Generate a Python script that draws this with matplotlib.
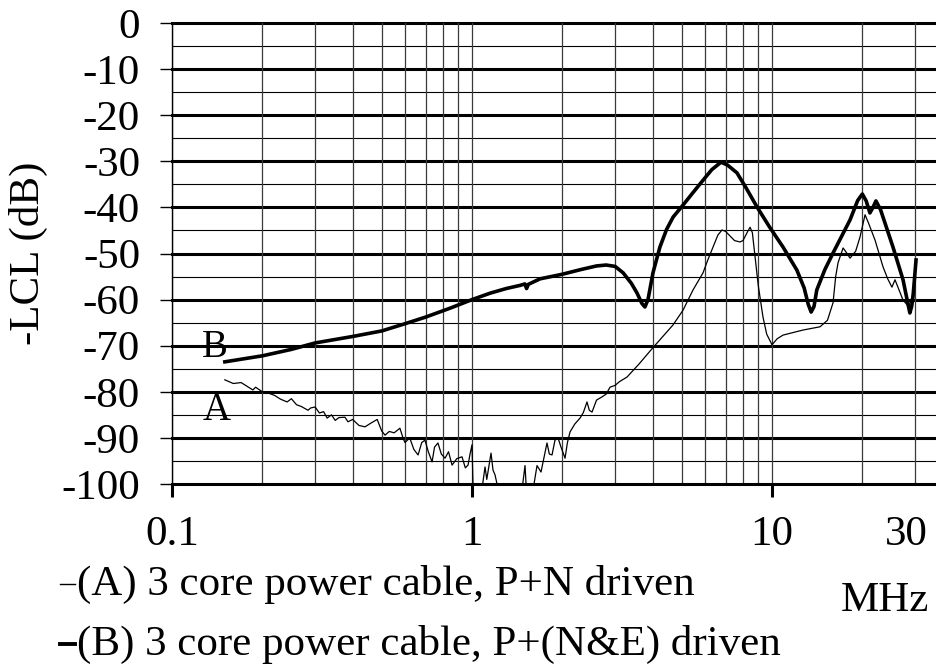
import numpy as np
import matplotlib
matplotlib.use("Agg")
import matplotlib.pyplot as plt
from matplotlib.ticker import LogLocator, MultipleLocator, NullFormatter
from matplotlib.lines import Line2D
from matplotlib.transforms import ScaledTranslation

plt.rcParams['font.family'] = ['Liberation Serif', 'DejaVu Serif']

# curve A: 3 core power cable, P+N driven (MHz, dB)
freq_a = [0.150, 0.16, 0.17, 0.186, 0.19, 0.20, 0.21, 0.22, 0.23, 0.242, 0.25,
          0.26, 0.27, 0.284, 0.29, 0.30, 0.31, 0.32, 0.329, 0.34, 0.35, 0.36,
          0.377, 0.386, 0.40, 0.42, 0.44, 0.46, 0.483, 0.50, 0.513, 0.53, 0.55,
          0.575, 0.59, 0.598, 0.62, 0.64, 0.661, 0.68, 0.697, 0.715, 0.736, 0.75,
          0.770, 0.79, 0.813, 0.835, 0.858, 0.89, 0.926, 0.95, 0.970, 0.985, 1.0,
          1.008, 1.03, 1.08, 1.105, 1.12, 1.157, 1.175, 1.193, 1.221, 1.3, 1.45,
          1.502, 1.52, 1.6, 1.647, 1.698, 1.74, 1.778, 1.81, 1.848, 1.89, 1.935,
          1.98, 2.042, 2.08, 2.122, 2.2, 2.291, 2.35, 2.417, 2.46, 2.512, 2.6,
          2.712, 2.8, 2.884, 3.0, 3.1, 3.286, 3.6, 4.0, 4.3, 4.677, 5.05, 5.454,
          5.888, 6.1, 6.358, 6.6, 6.81, 7.0, 7.5, 7.82, 8.0, 8.3, 8.45, 8.6, 8.78,
          9.0, 9.33, 9.6, 10.0, 10.4, 10.88, 11.5, 12.69, 14.45, 15.3, 15.97, 16.3,
          16.6, 17.25, 17.7, 18.2, 19.0, 19.65, 20.42, 21.0, 22.05, 23.44, 24.3,
          25.1, 25.7, 27.33, 28.6, 29.5]
lcl_a = [-77.4, -78.2, -78.0, -79.6, -79.0, -80.0, -80.3, -80.8, -81.6, -82.2, -81.5,
         -82.8, -83.2, -84.0, -83.5, -83.3, -84.6, -84.3, -85.7, -85.0, -86.2, -85.6,
         -85.5, -86.5, -86.0, -87.3, -87.6, -86.8, -86.0, -88.5, -89.4, -88.6, -88.9,
         -87.9, -90.2, -91.0, -90.0, -92.5, -93.7, -91.0, -90.5, -93.0, -95.2, -92.0,
         -91.1, -93.5, -94.4, -93.0, -95.9, -94.5, -94.1, -96.5, -95.9, -93.5, -91.5,
         -100.5, -103, -101, -96.3, -99, -93.3, -97, -98, -101, -106, -104,
         -96, -102, -101, -96, -97.4, -94, -91.1, -93.5, -93.7, -90.5, -90,
         -92, -94.4, -91, -88.7, -87, -85.7, -84.5, -82.2, -84, -84.4, -81.8,
         -81.1, -80.5, -79.0, -78.6, -77.8, -76.8, -74.0, -70.5, -68.2, -65.5, -62.3, -57.9,
         -54.2, -51.5, -48.6, -46.0, -44.9, -45.2, -47.2, -47.5, -47.2, -45.2, -44.3, -45.5, -50.8,
         -57.0, -63.8, -67.5, -69.8, -68.5, -67.7, -67.3, -66.6, -65.9, -64.5, -60.7, -55.0,
         -52.0, -48.8, -49.8, -51.0, -49.5, -46.4, -41.6, -43.5, -47.1, -52.9, -55.5,
         -57.3, -55.7, -60.1, -61.6, -58.6]

# curve B: 3 core power cable, P+(N&E) driven (MHz, dB)
freq_b = [0.150, 0.20, 0.25, 0.30, 0.40, 0.50, 0.60, 0.70, 0.85, 1.0, 1.15, 1.30,
          1.45, 1.50, 1.52, 1.54, 1.685, 2.0, 2.3, 2.6, 2.8, 3.0, 3.19, 3.4, 3.55,
          3.68, 3.77, 3.86, 4.01, 4.23, 4.45, 4.68, 5.05, 5.45, 5.89, 6.3, 6.76,
          7.1, 7.64, 8.2, 8.91, 9.8, 10.88, 12.1, 12.8, 13.2, 13.5, 13.8, 14.1,
          15.0, 15.97, 18.2, 19.3, 20.0, 20.6, 21.2, 21.7, 22.2, 23.0, 25.3,
          27.33, 28.5, 28.8, 29.2, 29.5, 30.2]
lcl_b = [-73.5, -72.2, -70.8, -69.4, -68.0, -66.8, -65.2, -63.8, -61.8, -60.0, -58.6, -57.6,
         -56.9, -56.6, -57.6, -56.7, -55.5, -54.5, -53.5, -52.7, -52.5, -52.8, -54.2, -56.5, -58.6,
         -60.8, -61.6, -60.0, -54.2, -48.6, -44.8, -42.1, -39.5, -36.8, -34.1, -31.8, -30.2,
         -30.8, -32.5, -35.8, -39.9, -44.2, -48.6, -53.6, -57.5, -61.0, -62.7, -61.5, -57.9,
         -53.5, -49.9, -42.7, -38.5, -37.1, -38.6, -41.2, -40.0, -38.6, -40.5, -48.6,
         -55.7, -61.5, -62.9, -61.5, -59.4, -51.4]

xtick_vals = [0.1, 1, 10, 30]
xtick_text = ['0.1', '1', '10', '30']
yticks = list(range(-100, 1, 10))

fs = 31

fig = plt.figure(figsize=(9.36, 6.70), dpi=100)
ax = fig.add_axes([172/936, 1 - 484/670, 1 - 172/936, 461/670])

ax.set_xscale('log')
ax.set_xlim(0.1, 35.2)
ax.set_ylim(-100, 0)

# grid
ax.xaxis.set_minor_locator(LogLocator(base=10, subs=range(2, 10)))
ax.xaxis.set_minor_formatter(NullFormatter())
ax.grid(which='both', axis='x', color='#3a3a3a', lw=0.9)
for v in range(-95, 0, 10):
    ax.axhline(v, color='k', lw=0.8, zorder=1)
for v in range(-90, 1, 10):
    ax.axhline(v, color='k', lw=2.2, zorder=1, clip_on=False)

ax.plot(freq_a, lcl_a, color='k', lw=0.9, zorder=3)
ax.plot(freq_b, lcl_b, color='k', lw=2.6, zorder=4, solid_joinstyle='round')

ax.set_xticks(xtick_vals)
ax.set_xticklabels(xtick_text)
ax.set_yticks(yticks)
ax.set_yticklabels([str(v) for v in yticks])
ax.yaxis.set_minor_locator(MultipleLocator(5))
ax.tick_params(axis='x', which='major', direction='out', length=9, width=2.2,
               labelsize=fs, pad=14)
ax.tick_params(axis='x', which='minor', length=0)
ax.tick_params(axis='y', which='major', direction='out', length=9, width=1,
               labelsize=fs, pad=14)
ax.tick_params(axis='y', which='minor', length=0)
ax.xaxis.get_major_ticks()[3].tick1line.set_visible(False)
lab30 = ax.get_xticklabels()[3]
lab30.set_transform(lab30.get_transform() + ScaledTranslation(-0.09, 0, fig.dpi_scale_trans))

for s in ['top', 'right']:
    ax.spines[s].set_visible(False)
ax.spines['bottom'].set_linewidth(2.2)
ax.spines['left'].set_linewidth(1.0)

ax.set_ylabel('-LCL (dB)', fontsize=fs)
ax.yaxis.set_label_coords(-0.162, 0.5)

ax.text(0.139, -70.3, 'B', fontsize=28, ha='center', va='center')
ax.text(0.141, -84.0, 'A', fontsize=28, ha='center', va='center')

# legend and unit
fig.add_artist(Line2D([60/936, 75/936], [1 - 584/670] * 2, color='k', lw=1.0))
fig.text(77/936, 1 - 584/670, '(A) 3 core power cable, P+N driven',
         fontsize=fs, va='center', ha='left')
fig.add_artist(Line2D([60/936, 75/936], [1 - 644/670] * 2, color='k', lw=2.8))
fig.text(77/936, 1 - 644/670, '(B) 3 core power cable, P+(N&E) driven',
         fontsize=fs, va='center', ha='left')
fig.text(885/936, 1 - 601/670, 'MHz', fontsize=fs, va='center', ha='center')

fig.savefig('out.png', dpi=100)
